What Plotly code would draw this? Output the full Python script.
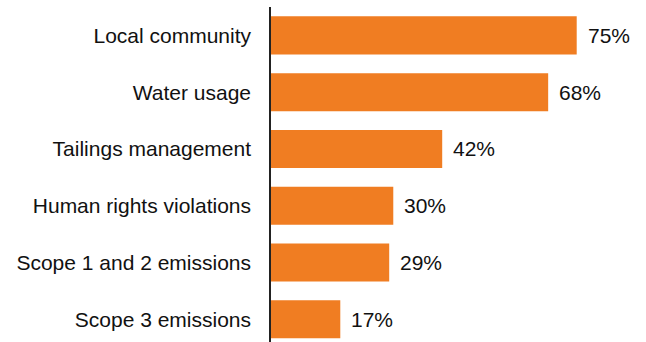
import plotly.graph_objects as go

categories = ["Scope 3 emissions", "Scope 1 and 2 emissions", "Human rights violations",
              "Tailings management", "Water usage", "Local community"]
values = [17, 29, 30, 42, 68, 75]
value_labels = ["17%", "29%", "30%", "42%", "68%", "75%"]

BAR_COLOR = "#F07D22"
FONT = "Liberation Sans, Arial, sans-serif"
TEXT_COLOR = "#111111"
FONT_SIZE = 21

fig = go.Figure()
fig.add_trace(go.Bar(
    x=values, y=categories, orientation="h",
    marker=dict(color=BAR_COLOR, line=dict(width=0)),
    hoverinfo="skip",
))

for c, v, t in zip(categories, values, value_labels):
    fig.add_annotation(x=v, y=c, text=t, showarrow=False, xanchor="left",
                       xshift=9, font=dict(family=FONT, size=FONT_SIZE, color=TEXT_COLOR))

fig.update_layout(
    width=646, height=342,
    margin=dict(l=271, r=0, t=7, b=0, autoexpand=False),
    paper_bgcolor="white", plot_bgcolor="white",
    bargap=0.33, showlegend=False,
    font=dict(family=FONT, size=FONT_SIZE, color=TEXT_COLOR),
)
fig.update_xaxes(range=[0, 92], visible=False, fixedrange=True)
fig.update_yaxes(
    type="category", categoryorder="array", categoryarray=categories,
    range=[-0.4, 5.5], showline=True, linecolor="#222222", linewidth=1.5,
    showgrid=False, zeroline=False, ticks="outside", ticklen=14,
    tickcolor="rgba(0,0,0,0)", tickfont=dict(family=FONT, size=FONT_SIZE, color=TEXT_COLOR),
    automargin=False, fixedrange=True,
)

fig.write_html("out.html", config={"displayModeBar": False},
               post_script="document.body.style.margin='0';document.body.style.overflow='hidden';")
